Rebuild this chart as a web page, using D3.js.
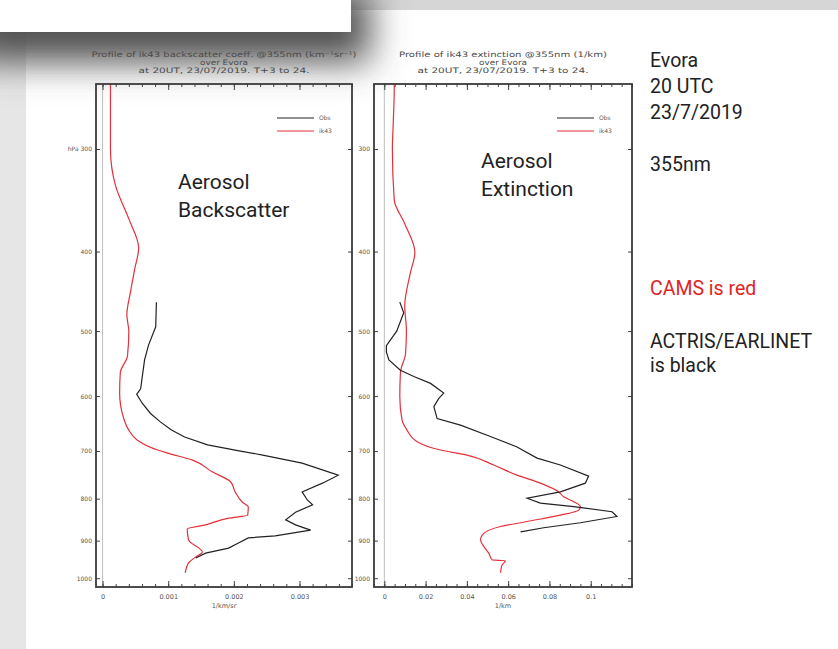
<!DOCTYPE html>
<html>
<head>
<meta charset="utf-8">
<script src="https://cdn.jsdelivr.net/npm/d3@7"></script>
<style>
  body { margin: 0; background: #fff; }
  svg text { font-family: "DejaVu Sans", sans-serif; }
  .note { font-family: Roboto, "Noto Sans", sans-serif; }
</style>
</head>
<body>
<div id="chart"></div>
<script>
// pressure levels (hPa) and tick labels
const pressureTicks = [300, 400, 500, 600, 700, 800, 900, 1000];
const bscTicks = [0, 0.001, 0.002, 0.003];
const extTicks = [0, 0.02, 0.04, 0.06, 0.08, 0.1];

// backscatter, CAMS ik43 (red)
const bscCamsP = [250, 253, 300, 333, 365, 396, 420, 446, 478, 500, 536, 562, 595, 638, 660, 679, 698, 704, 718, 742, 763, 785, 808, 819, 838, 845, 861, 871, 898, 929, 942, 958, 985];
const bscCamsV = [0.00012, 0.00012, 0.00012, 0.0002, 0.0004, 0.00055, 0.00049, 0.00043, 0.00037, 0.0004, 0.00038, 0.00027, 0.00026, 0.00032, 0.0004, 0.00053, 0.00084, 0.00099, 0.00137, 0.00167, 0.00195, 0.00202, 0.00213, 0.00222, 0.00221, 0.00192, 0.00157, 0.00129, 0.00131, 0.00152, 0.00142, 0.00131, 0.00126];

// backscatter, Obs (black)
const bscObsP = [461, 494, 520, 542, 588, 597, 613, 630, 645, 660, 673, 688, 700, 708, 724, 749, 766, 785, 803, 814, 831, 849, 861, 874, 888, 893, 906, 919, 932, 945];
const bscObsV = [0.00082, 0.00081, 0.0007, 0.00064, 0.00058, 0.00052, 0.00061, 0.00073, 0.00088, 0.00105, 0.00125, 0.0016, 0.0021, 0.00244, 0.00304, 0.00359, 0.00335, 0.00304, 0.00312, 0.0032, 0.00294, 0.00279, 0.00294, 0.00317, 0.00263, 0.00222, 0.00207, 0.00192, 0.00157, 0.00142];

// extinction, CAMS ik43 (red)
const extCamsP = [250, 254, 280, 300, 346, 370, 401, 425, 466, 500, 532, 562, 601, 642, 660, 682, 698, 708, 728, 749, 766, 785, 796, 807, 818, 826, 838, 853, 865, 886, 898, 915, 932, 950, 952, 964, 985];
const extCamsV = [0.0048, 0.0048, 0.0043, 0.0039, 0.0048, 0.0099, 0.0148, 0.0126, 0.0099, 0.0107, 0.0103, 0.0078, 0.0075, 0.0086, 0.011, 0.0159, 0.0272, 0.0401, 0.053, 0.0643, 0.0756, 0.0845, 0.0869, 0.0918, 0.095, 0.0942, 0.0853, 0.0692, 0.0563, 0.0474, 0.0466, 0.0482, 0.0506, 0.0522, 0.0587, 0.057, 0.0563];

// extinction, Obs (black)
const extObsP = [461, 475, 500, 521, 530, 542, 558, 568, 579, 595, 604, 618, 639, 651, 672, 692, 714, 728, 751, 766, 785, 799, 810, 818, 830, 841, 856, 868, 878];
const extObsV = [0.0075, 0.0094, 0.006, 0.001, 0.001, 0.0022, 0.0078, 0.0143, 0.0224, 0.0288, 0.0264, 0.024, 0.0256, 0.0369, 0.0514, 0.0643, 0.074, 0.0853, 0.099, 0.0974, 0.0853, 0.0692, 0.0756, 0.0918, 0.1103, 0.1127, 0.095, 0.0772, 0.066];

const RED = '#e3303a';
const INK = '#222';

const svg = d3.select('#chart').append('svg')
    .attr('width', 838)
    .attr('height', 649);

// fondo tipo captura de diapositiva
const defs = svg.append('defs');
defs.append('filter').attr('id', 'blur')
    .attr('x', -0.5).attr('y', -0.5).attr('width', 2).attr('height', 3)
    .append('feGaussianBlur').attr('stdDeviation', 18);

svg.append('rect').attr('x', 0).attr('y', 0).attr('width', 838).attr('height', 649).attr('fill', '#fff');
svg.append('rect').attr('x', 350).attr('y', 0).attr('width', 488).attr('height', 10).attr('fill', '#d6d6d6');
svg.append('rect').attr('x', 0).attr('y', 32).attr('width', 26).attr('height', 617).attr('fill', '#e6e6e6');
svg.append('rect')
    .attr('x', -30).attr('y', -10).attr('width', 400).attr('height', 72)
    .attr('fill', '#505050')
    .attr('filter', 'url(#blur)');
svg.append('rect').attr('x', 0).attr('y', 0).attr('width', 351).attr('height', 32).attr('fill', '#fff');

const y = d3.scaleLog().domain([250, 1025]).range([84, 587]);

function drawPanel(cfg) {
    const g = svg.append('g');
    const x = d3.scaleLinear().domain(cfg.xDomain).range([cfg.left, cfg.right]);
    const cx = (cfg.left + cfg.right) / 2;

    // fondo blanco del gráfico
    g.append('rect')
        .attr('x', cfg.left - 70).attr('y', 84)
        .attr('width', cfg.right - cfg.left + 70).attr('height', 530)
        .style('fill', 'none');

    // títulos
    cfg.title.forEach((t, i) => {
        g.append('text')
            .attr('x', cx)
            .attr('y', 57 + i * 8)
            .attr('text-anchor', 'middle')
            .attr('textLength', cfg.titleLen[i])
            .attr('lengthAdjust', 'spacingAndGlyphs')
            .style('font-size', '7.5px')
            .style('fill', '#4a4a4a')
            .text(t);
    });

    // línea del cero
    g.append('line')
        .attr('x1', x(0)).attr('x2', x(0))
        .attr('y1', 84).attr('y2', 587)
        .style('stroke', '#bdbdbd')
        .style('stroke-width', 1);

    // ejes x (abajo y arriba)
    const minor = d3.range(Math.ceil(cfg.xDomain[0] / cfg.minorStep), Math.floor(cfg.xDomain[1] / cfg.minorStep) + 1)
        .map(k => +(k * cfg.minorStep).toFixed(6));
    [['bottom', 587], ['top', 84]].forEach(([side, yy]) => {
        const mk = side === 'bottom' ? d3.axisBottom : d3.axisTop;
        g.append('g')
            .attr('transform', `translate(0,${yy})`)
            .call(mk(x).tickValues(minor).tickSize(-3).tickFormat(''))
            .call(a => a.select('.domain').remove());
        const ax = g.append('g')
            .attr('transform', `translate(0,${yy})`)
            .call(mk(x).tickValues(cfg.xTicks).tickSize(-6).tickPadding(7)
                .tickFormat(side === 'bottom' ? (d => String(d)) : ''));
        ax.select('.domain').remove();
        ax.selectAll('text').style('font-size', '6.5px').style('fill', '#555');
    });

    // ejes y (izquierda y derecha)
    const ay = g.append('g')
        .attr('transform', `translate(${cfg.left},0)`)
        .call(d3.axisLeft(y).tickValues(pressureTicks).tickSize(-4).tickPadding(4)
            .tickFormat(d => (d === 300 && cfg.hpa ? 'hPa ' : '') + d));
    ay.select('.domain').remove();
    ay.selectAll('text').style('font-size', '6px').style('fill', '#555');
    const ayr = g.append('g')
        .attr('transform', `translate(${cfg.right},0)`)
        .call(d3.axisRight(y).tickValues(pressureTicks).tickSize(-4).tickFormat(''));
    ayr.select('.domain').remove();
    g.selectAll('.tick line').style('stroke', '#444');

    // perfiles
    cfg.series.forEach(s => {
        const pts = s.p.map((p, i) => [p, s.v[i]]);
        g.append('path')
            .datum(pts)
            .attr('d', d3.line()
                .x(d => x(d[1]))
                .y(d => y(d[0]))
                .curve(s.smooth ? d3.curveMonotoneY : d3.curveLinear))
            .style('fill', 'none')
            .style('stroke', s.color)
            .style('stroke-width', 1.2);
    });

    // marco
    g.append('rect')
        .attr('x', cfg.left).attr('y', 84)
        .attr('width', cfg.right - cfg.left).attr('height', 503)
        .style('fill', 'none')
        .style('stroke', '#3a3a3a')
        .style('stroke-width', 1.8);

    // unidades
    g.append('text')
        .attr('x', cx).attr('y', 608)
        .attr('text-anchor', 'middle')
        .style('font-size', '6.5px')
        .style('fill', '#555')
        .text(cfg.unit);

    // leyenda
    [['Obs', INK, 118], ['ik43', RED, 131]].forEach(([name, col, ly]) => {
        g.append('line')
            .attr('x1', cfg.legendX).attr('x2', cfg.legendX + 37)
            .attr('y1', ly).attr('y2', ly)
            .style('stroke', col).style('stroke-width', 1);
        g.append('text')
            .attr('x', cfg.legendX + 42).attr('y', ly + 2)
            .style('font-size', '6px')
            .style('fill', '#555')
            .text(name);
    });

    // anotación
    cfg.note.forEach((t, i) => {
        g.append('text')
            .attr('class', 'note')
            .attr('x', cfg.noteX).attr('y', cfg.noteY + i * 28)
            .style('font-size', '21px')
            .style('fill', INK)
            .text(t);
    });
}

drawPanel({
    left: 96, right: 352,
    xDomain: [-0.0001, 0.0038],
    xTicks: bscTicks,
    minorStep: 0.0002,
    title: ['Profile of ik43 backscatter coeff. @355nm (km\u207B\u00B9sr\u207B\u00B9)', 'over Evora', 'at 20UT, 23/07/2019. T+3 to 24.'],
    titleLen: [265, 48, 171],
    unit: '1/km/sr',
    hpa: true,
    legendX: 277,
    note: ['Aerosol', 'Backscatter'],
    noteX: 178, noteY: 189,
    series: [
        { p: bscCamsP, v: bscCamsV, color: RED, smooth: true },
        { p: bscObsP, v: bscObsV, color: INK, smooth: false }
    ]
});

drawPanel({
    left: 374, right: 632,
    xDomain: [-0.005, 0.12],
    xTicks: extTicks,
    minorStep: 0.005,
    title: ['Profile of ik43 extinction @355nm (1/km)', 'over Evora', 'at 20UT, 23/07/2019. T+3 to 24.'],
    titleLen: [208, 48, 171],
    unit: '1/km',
    hpa: false,
    legendX: 557,
    note: ['Aerosol', 'Extinction'],
    noteX: 481, noteY: 168,
    series: [
        { p: extCamsP, v: extCamsV, color: RED, smooth: true },
        { p: extObsP, v: extObsV, color: INK, smooth: false }
    ]
});

// texto lateral
const side = [
    ['Evora', 67, INK], ['20 UTC', 93, INK], ['23/7/2019', 119, INK],
    ['355nm', 171, INK], ['CAMS is red', 295, '#e02424'],
    ['ACTRIS/EARLINET', 348, INK], ['is black', 372, INK]
];
side.forEach(([t, ty, col]) => {
    svg.append('text')
        .attr('class', 'note')
        .attr('x', 650).attr('y', ty)
        .style('font-size', '19.5px')
        .style('fill', col)
        .text(t);
});
</script>
</body>
</html>
